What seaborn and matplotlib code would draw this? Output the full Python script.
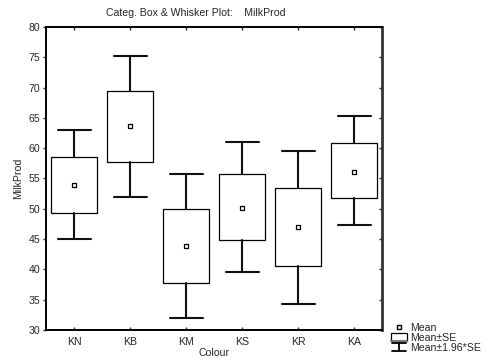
import numpy as np
import pandas as pd
import seaborn as sns
import matplotlib.pyplot as plt
from matplotlib.lines import Line2D
from matplotlib.patches import Rectangle
from matplotlib.legend_handler import HandlerBase

# Values
colours = ['KN', 'KB', 'KM', 'KS', 'KR', 'KA']
means = [53.9, 63.6, 43.8, 50.2, 47.0, 56.1]
se_low = [49.3, 57.7, 37.8, 44.8, 40.6, 51.7]
se_high = [58.6, 69.5, 49.9, 55.8, 53.4, 60.9]
ci_low = [45.0, 52.0, 32.0, 39.5, 34.3, 47.3]
ci_high = [63.0, 75.2, 55.8, 61.0, 59.6, 65.3]
yticks = [30, 35, 40, 45, 50, 55, 60, 65, 70, 75, 80]

df = pd.DataFrame({'Colour': colours, 'MilkProd': means})

sns.set_style('ticks')
plt.rcParams['font.family'] = ['Liberation Sans', 'DejaVu Sans']
fs = 7.6

fig = plt.figure(figsize=(4.86, 3.61), dpi=100)
ax = fig.add_axes([0.0947, 0.0859, 0.6914, 0.8393])

# boxes = mean +- SE, whiskers = mean +- 1.96*SE
stats = []
for i, c in enumerate(colours):
    stats.append(dict(med=means[i], q1=se_low[i], q3=se_high[i],
                      whislo=ci_low[i], whishi=ci_high[i], label=c))
ax.bxp(stats, positions=range(len(colours)), widths=0.82, showfliers=False,
       patch_artist=True,
       boxprops=dict(facecolor='white', edgecolor='black', linewidth=0.9),
       medianprops=dict(linewidth=0),
       whiskerprops=dict(color='#111111', linewidth=1.5),
       capprops=dict(color='#111111', linewidth=1.5),
       capwidths=0.59, zorder=2)

sns.scatterplot(data=df, x='Colour', y='MilkProd', marker='s', s=12,
                facecolor='white', edgecolor='black', linewidth=0.9,
                ax=ax, zorder=3)

ax.set_xlim(-0.5, len(colours) - 0.5)
ax.set_ylim(30, 80)
ax.set_yticks(yticks)
ax.set_xticks(range(len(colours)))
ax.set_xticklabels(colours)
ax.set_xlabel('Colour', fontsize=fs, labelpad=1)
ax.set_ylabel('MilkProd', fontsize=fs, labelpad=4)
ax.tick_params(axis='y', which='both', direction='out', length=2, width=1,
               right=True, labelsize=fs, pad=2)
ax.tick_params(axis='x', which='both', direction='in', length=2, width=1,
               top=True, labelsize=fs, pad=5)
# right-hand ticks point inwards
for t in ax.yaxis.get_major_ticks():
    t.tick2line.set_marker(0)
    t.tick2line.set_markersize(2.5)
for s in ax.spines.values():
    s.set_visible(True)
    s.set_linewidth(1.4)
    s.set_color('black')
ax.spines['right'].set_linewidth(2)
ax.spines['right'].set_color('#333333')

fig.text(106 / 486, 1 - 13 / 361, 'Categ. Box & Whisker Plot:    MilkProd',
         fontsize=fs, ha='left', va='center')


class WhiskerHandler(HandlerBase):
    def create_artists(self, legend, orig, xd, yd, w, h, fontsize, trans):
        cx = xd + w / 2
        l1 = Line2D([cx, cx], [yd, yd + h], color='black', lw=1.3, transform=trans)
        l2 = Line2D([cx - w * 0.45, cx + w * 0.45], [yd, yd], color='black', lw=1.3, transform=trans)
        l3 = Line2D([cx - w * 0.45, cx + w * 0.45], [yd + h, yd + h], color='black', lw=1.3, transform=trans)
        return [l1, l2, l3]


class BoxHandler(HandlerBase):
    def create_artists(self, legend, orig, xd, yd, w, h, fontsize, trans):
        r = Rectangle((xd, yd), w, h, facecolor='white', edgecolor='black', lw=0.9, transform=trans)
        b = Line2D([xd, xd + w], [yd, yd], color='#777777', lw=1.5, transform=trans)
        return [r, b]


mean_h = Line2D([], [], marker='s', markersize=3.2, markerfacecolor='white',
                markeredgecolor='black', linestyle='none')
box_h = Rectangle((0, 0), 1, 1)
whisk_h = Line2D([], [])
fig.legend([mean_h, box_h, whisk_h], ['Mean', 'Mean±SE', 'Mean±1.96*SE'],
           handler_map={Rectangle: BoxHandler(), whisk_h: WhiskerHandler()},
           loc='lower left', bbox_to_anchor=(391 / 486, 8 / 361),
           frameon=False, fontsize=fs, handlelength=1.5, handleheight=0.8,
           handletextpad=0.35, labelspacing=0.0, borderpad=0, borderaxespad=0)

fig.savefig('out.png', dpi=100)
